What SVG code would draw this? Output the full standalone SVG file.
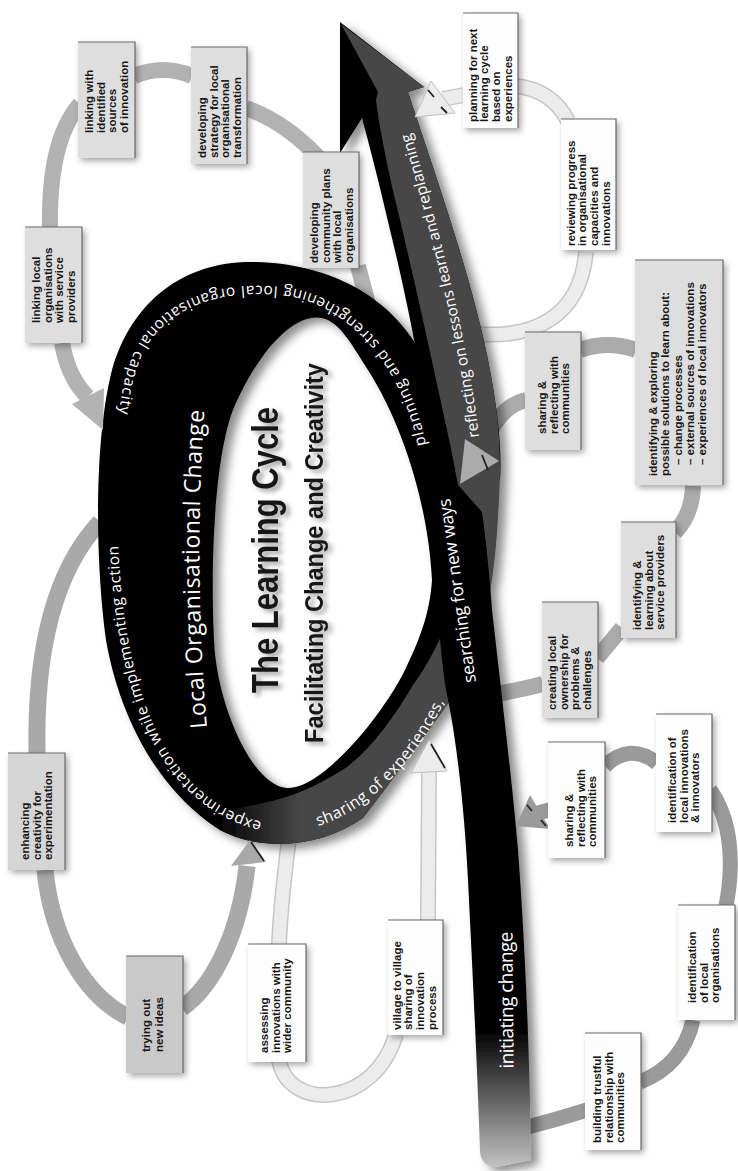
<svg xmlns="http://www.w3.org/2000/svg" width="738" height="1171" viewBox="0 0 738 1171">
<defs>
<style>
.bt{font-family:"Liberation Sans",Arial,sans-serif;font-weight:700;font-size:11.5px;fill:#161616}
.rt{font-family:"Open Sans","Liberation Sans",sans-serif;fill:#fff}
.tt{font-family:"Liberation Sans",Arial,sans-serif;font-weight:700;fill:#151515}
.gray{fill:#dedede}
.white{fill:#fdfdfd}
.mid{fill:#d5d5d5}
.dark{fill:#c9c9c9}
.edge{fill:none;stroke:#6a6a6a;stroke-width:1.2}
.c1{stroke:#b2b2b2;stroke-width:16}
.c2{stroke:#a9a9a9;stroke-width:17}
.lo{stroke:#c6c6c6;stroke-width:16}
.li{stroke:#ececec;stroke-width:13}
.c4{stroke:#9a9a9a;stroke-width:15}
.c5{stroke:#ababab;stroke-width:16}
.f1{fill:#b2b2b2}
.f2{fill:#a9a9a9}
.fl{fill:#ececec;stroke:#c0c0c0;stroke-width:1}
.f4{fill:#9a9a9a}
.f5{fill:#ababab}
.tick{stroke:#222;stroke-width:1.8;fill:none}
</style>
<filter id="bsh" x="-25%" y="-25%" width="150%" height="150%">
<feDropShadow dx="-3" dy="3" stdDeviation="3" flood-color="#000" flood-opacity="0.35"/>
</filter>
<filter id="rsh" x="-10%" y="-10%" width="130%" height="130%">
<feDropShadow dx="7" dy="5" stdDeviation="5" flood-color="#000" flood-opacity="0.45"/>
</filter>
<filter id="tsh" x="-10%" y="-10%" width="130%" height="130%">
<feDropShadow dx="4" dy="3" stdDeviation="2.5" flood-color="#000" flood-opacity="0.4"/>
</filter>
<linearGradient id="gShaft" gradientUnits="userSpaceOnUse" x1="0" y1="1030" x2="0" y2="1168">
<stop offset="0" stop-color="#000"/>
<stop offset="1" stop-color="#c4c4c4"/>
</linearGradient>
<linearGradient id="gShare" gradientUnits="userSpaceOnUse" x1="215" y1="0" x2="300" y2="0">
<stop offset="0" stop-color="#000"/>
<stop offset="1" stop-color="#474747"/>
</linearGradient>
<path id="p-reflect" d="M 479 437 C 468 340, 438 225, 409 127"/>
<path id="p-plan" d="M 426 445 C 412 370, 360 300, 290 288 C 220 278, 160 300, 135 350 C 122 380, 118 410, 117 450"/>
<path id="p-local" d="M 207 728 Q 193 565 205 400"/>
<path id="p-exp" d="M 262 822 C 190 805, 125 735, 118 540"/>
<path id="p-share" d="M 318 826 C 365 812, 415 765, 446 698"/>
</defs>

<rect width="738" height="1171" fill="#fff"/>

<g id="connectors" fill="none">
<path class="c1" d="M 62 343 C 66 365, 75 385, 88 397"/>
<path class="c1" d="M 50 228 C 49 170, 58 130, 80 104"/>
<path class="c1" d="M 134 76 Q 163 64 192 76"/>
<path class="c1" d="M 246 108 Q 285 122 318 157"/>
<path class="c1" d="M 358 266 L 380 350"/>
<path class="c2" d="M 100 522 C 55 570, 35 650, 37 753"/>
<path class="c2" d="M 45 870 C 52 940, 85 996, 128 1017"/>
<path class="c2" d="M 182 1008 C 215 985, 240 930, 247 866"/>
<path class="lo" d="M 289 838 C 284 880, 280 910, 279 946"/>
<path class="li" d="M 289 838 C 284 880, 280 910, 279 946"/>
<path class="lo" d="M 279 1060 C 288 1112, 375 1108, 396 1034"/>
<path class="li" d="M 279 1060 C 288 1112, 375 1108, 396 1034"/>
<path class="lo" d="M 428 922 L 429 770"/>
<path class="li" d="M 428 922 L 429 770"/>
<path class="c4" d="M 524 1128 Q 555 1120 587 1110"/>
<path class="c4" d="M 640 1082 Q 683 1065 693 1020"/>
<path class="c4" d="M 726 906 C 734 865, 732 820, 710 790"/>
<path class="c4" d="M 657 763 Q 630 742 605 766"/>
<path class="c4" d="M 556 808 L 538 813"/>
<path class="c5" d="M 496 694 Q 520 690 543 684"/>
<path class="c5" d="M 597 658 Q 612 640 622 628"/>
<path class="c5" d="M 675 532 Q 692 515 693 486"/>
<path class="c5" d="M 636 350 Q 608 340 580 350"/>
<path class="c5" d="M 526 400 C 505 405, 490 425, 484 448"/>
<path class="lo" d="M 478 334 C 530 338, 580 320, 586 252"/>
<path class="li" d="M 478 334 C 530 338, 580 320, 586 252"/>
<path class="lo" d="M 516 86 Q 552 90 568 121"/>
<path class="li" d="M 516 86 Q 552 90 568 121"/>
<path class="lo" d="M 464 95 L 443 99"/>
<path class="li" d="M 464 95 L 443 99"/>
</g>

<g id="ribbon" filter="url(#rsh)">
<path id="ring" fill="#000" fill-rule="evenodd" d="M 482 545 C 480 470, 460 410, 425 360 C 390 290, 320 262, 250 262 C 185 262, 132 300, 112 370 C 94 440, 95 560, 106 640 C 120 720, 160 792, 220 830 C 262 852, 320 848, 363 818 C 385 790, 425 735, 452 698 L 476 640 L 490 590 Z M 432 580 C 428 500, 400 420, 368 370 C 352 345, 340 322, 322 318 C 290 312, 255 360, 235 405 C 215 450, 210 560, 214 640 C 216 700, 250 785, 287 788 C 320 790, 380 720, 405 670 C 422 635, 430 610, 432 580 Z"/>
<path id="arrow-back" fill="#000" d="M 340 22 L 424 87 L 408 92 C 430 160, 470 270, 488 360 C 498 410, 502 450, 500 480 L 436 480 C 428 400, 405 290, 390 230 C 382 195, 372 155, 362 118 L 340 153 Z"/>
<path id="sharing-band" fill="url(#gShare)" d="M 220 830 C 262 852, 320 848, 363 818 C 385 790, 425 735, 452 698 L 476 640 L 470 615 L 452 612 C 440 640, 428 665, 413 685 C 395 715, 375 745, 347 767 C 320 785, 290 798, 263 803 C 240 808, 222 812, 205 818 Z"/>
<path id="arrow-face" fill="#474747" d="M 341 24 L 424 87 L 408 92 C 430 160, 470 270, 488 360 C 498 410, 502 450, 499 500 C 497 540, 494 570, 490 592 L 474 592 C 468 540, 458 480, 447 430 C 432 360, 410 260, 394 195 C 386 160, 379 125, 376 100 L 378 92 Z"/>
<path id="shaft" fill="url(#gShaft)" d="M 418 440 L 482 512 C 486 540, 490 580, 492 610 C 500 680, 512 780, 518 850 C 524 930, 528 1020, 530 1100 L 531 1160 L 496 1167 C 486 1168, 480 1160, 480 1150 C 477 1060, 472 960, 468 880 C 464 800, 455 730, 446 690 C 440 650, 436 590, 430 520 Z"/>
</g>

<g id="ribbon-labels" class="rt">
<text font-size="15.5"><textPath href="#p-reflect" textLength="312" lengthAdjust="spacing">reflecting on lessons learnt and replanning</textPath></text>
<text font-size="15.5"><textPath href="#p-plan" textLength="465" lengthAdjust="spacing">planning and strengthening local organisational capacity</textPath></text>
<text font-size="23"><textPath href="#p-local" textLength="318" lengthAdjust="spacing">Local Organisational Change</textPath></text>
<text font-size="15.5"><textPath href="#p-exp" textLength="335" lengthAdjust="spacing">experimentation while implementing action</textPath></text>
<text font-size="16"><textPath href="#p-share" textLength="182" lengthAdjust="spacing">sharing of experiences,</textPath></text>
<text font-size="17.5" text-anchor="middle" textLength="186" transform="translate(463,590) rotate(-98)">searching for new ways</text>
<text font-size="19" text-anchor="middle" textLength="137" transform="translate(513,1000) rotate(-90.5)">initiating change</text>
</g>

<g id="title" filter="url(#tsh)">
<text class="tt" font-size="37" textLength="286" lengthAdjust="spacingAndGlyphs" transform="translate(278,693) rotate(-90)">The Learning Cycle</text>
<text class="tt" font-size="26" textLength="380" lengthAdjust="spacingAndGlyphs" transform="translate(323,743) rotate(-90)">Facilitating Change and Creativity</text>
</g>

<g id="connector-heads">
<polygon class="f1" points="103,430 104,388 72,404"/>
<polygon class="f2" points="250,840 231,866 266,862"/>
<line class="tick" x1="251" y1="842" x2="264" y2="861"/>
<polygon class="fl" points="429,740 411,773 447,771"/>
<line class="tick" x1="431" y1="744" x2="445" y2="768"/>
<polygon class="f4" points="516,826 530,795 550,829"/>
<line class="tick" x1="527" y1="805" x2="532" y2="811"/>
<line class="tick" x1="541" y1="820" x2="546" y2="826"/>
<polygon class="f5" points="460,484 499,461 465,439"/>
<line class="tick" x1="482" y1="455" x2="488" y2="470"/>
<polygon class="fl" points="415,117 455,113 431,81"/>
<line class="tick" x1="428" y1="90" x2="434" y2="97"/>
<line class="tick" x1="441" y1="107" x2="447" y2="113"/>
</g>

<g id="n-linking-sources" transform="translate(78,158) rotate(-90)">
<rect class="gray" width="116" height="57" filter="url(#bsh)"/>
<path class="edge" d="M0 57H116V0"/>
<text class="bt"><tspan x="25" y="15">linking with</tspan><tspan x="25" dy="11.7">identified</tspan><tspan x="25" dy="11.7">sources</tspan><tspan x="25" dy="11.7">of innovation</tspan></text>
</g>
<g id="n-strategy" transform="translate(191,164) rotate(-90)">
<rect class="gray" width="117" height="56" filter="url(#bsh)"/>
<path class="edge" d="M0 56H117V0"/>
<text class="bt"><tspan x="6" y="15">developing</tspan><tspan x="6" dy="11.7">strategy for local</tspan><tspan x="6" dy="11.7">organisational</tspan><tspan x="6" dy="11.7">transformation</tspan></text>
</g>
<g id="n-community-plans" transform="translate(303,268) rotate(-90)">
<rect class="gray" width="116" height="56" filter="url(#bsh)"/>
<path class="edge" d="M0 56H116V0"/>
<text class="bt"><tspan x="5" y="15">developing</tspan><tspan x="5" dy="11.7">community plans</tspan><tspan x="5" dy="11.7">with local</tspan><tspan x="5" dy="11.7">organisations</tspan></text>
</g>
<g id="n-linking-local" transform="translate(25,343) rotate(-90)">
<rect class="gray" width="116" height="57" filter="url(#bsh)"/>
<path class="edge" d="M0 57H116V0"/>
<text class="bt"><tspan x="20" y="15">linking local</tspan><tspan x="20" dy="11.7">organisations</tspan><tspan x="20" dy="11.7">with service</tspan><tspan x="20" dy="11.7">providers</tspan></text>
</g>
<g id="n-planning-next" transform="translate(463,128) rotate(-90)">
<rect class="white" width="115" height="55" filter="url(#bsh)"/>
<path class="edge" d="M0 55H115V0"/>
<text class="bt"><tspan x="6" y="13.5">planning for next</tspan><tspan x="6" dy="11.7">learning cycle</tspan><tspan x="6" dy="11.7">based on</tspan><tspan x="6" dy="11.7">experiences</tspan></text>
</g>
<g id="n-reviewing" transform="translate(561,250) rotate(-90)">
<rect class="white" width="131" height="55" filter="url(#bsh)"/>
<path class="edge" d="M0 55H131V0"/>
<text class="bt"><tspan x="4" y="13.5">reviewing progress</tspan><tspan x="4" dy="11.7">in organisational</tspan><tspan x="4" dy="11.7">capacities and</tspan><tspan x="4" dy="11.7">innovations</tspan></text>
</g>
<g id="n-exploring" transform="translate(635,485) rotate(-90)">
<rect class="gray" width="225" height="88" filter="url(#bsh)"/>
<path class="edge" d="M0 88H225V0"/>
<text class="bt"><tspan x="9" y="22">identifying &amp; exploring</tspan><tspan x="9" dy="12.3">possible solutions to learn about:</tspan><tspan x="20" dy="12.3">– change processes</tspan><tspan x="20" dy="12.3">– external sources of innovations</tspan><tspan x="20" dy="12.3">– experiences of local innovators</tspan></text>
</g>
<g id="n-sharing-upper" transform="translate(525,450) rotate(-90)">
<rect class="gray" width="118" height="56" filter="url(#bsh)"/>
<path class="edge" d="M0 56H118V0"/>
<text class="bt"><tspan x="16" y="21">sharing &amp;</tspan><tspan x="16" dy="11.7">reflecting with</tspan><tspan x="16" dy="11.7">communities</tspan></text>
</g>
<g id="n-service-providers" transform="translate(621,638) rotate(-90)">
<rect class="gray" width="116" height="55" filter="url(#bsh)"/>
<path class="edge" d="M0 55H116V0"/>
<text class="bt"><tspan x="8" y="20">identifying &amp;</tspan><tspan x="8" dy="11.7">learning about</tspan><tspan x="8" dy="11.7">service providers</tspan></text>
</g>
<g id="n-ownership" transform="translate(542,718) rotate(-90)">
<rect class="gray" width="116" height="56" filter="url(#bsh)"/>
<path class="edge" d="M0 56H116V0"/>
<text class="bt"><tspan x="8" y="14">creating local</tspan><tspan x="8" dy="11.7">ownership for</tspan><tspan x="8" dy="11.7">problems &amp;</tspan><tspan x="8" dy="11.7">challenges</tspan></text>
</g>
<g id="n-local-innovations" transform="translate(656,832) rotate(-90)">
<rect class="white" width="118" height="56" filter="url(#bsh)"/>
<path class="edge" d="M0 56H118V0"/>
<text class="bt"><tspan x="9" y="20">identification of</tspan><tspan x="9" dy="11.7">local innovations</tspan><tspan x="9" dy="11.7">&amp; innovators</tspan></text>
</g>
<g id="n-sharing-lower" transform="translate(548,858) rotate(-90)">
<rect class="white" width="116" height="57" filter="url(#bsh)"/>
<path class="edge" d="M0 57H116V0"/>
<text class="bt"><tspan x="11" y="25">sharing &amp;</tspan><tspan x="11" dy="11.7">reflecting with</tspan><tspan x="11" dy="11.7">communities</tspan></text>
</g>
<g id="n-local-orgs" transform="translate(678,1020) rotate(-90)">
<rect class="white" width="115" height="57" filter="url(#bsh)"/>
<path class="edge" d="M0 57H115V0"/>
<text class="bt"><tspan x="17" y="18">identification</tspan><tspan x="17" dy="11.7">of local</tspan><tspan x="17" dy="11.7">organisations</tspan></text>
</g>
<g id="n-trustful" transform="translate(585,1150) rotate(-90)">
<rect class="white" width="117" height="56" filter="url(#bsh)"/>
<path class="edge" d="M0 56H117V0"/>
<text class="bt"><tspan x="7" y="16">building trustful</tspan><tspan x="7" dy="11.7">relationship with</tspan><tspan x="7" dy="11.7">communities</tspan></text>
</g>
<g id="n-village" transform="translate(388,1035) rotate(-90)">
<rect class="white" width="115" height="55" filter="url(#bsh)"/>
<path class="edge" d="M0 55H115V0"/>
<text class="bt"><tspan x="5" y="12.5">village to village</tspan><tspan x="5" dy="11.7">sharing of</tspan><tspan x="5" dy="11.7">innovation</tspan><tspan x="5" dy="11.7">process</tspan></text>
</g>
<g id="n-enhancing" transform="translate(8,870) rotate(-90)">
<rect class="mid" width="117" height="57" filter="url(#bsh)"/>
<path class="edge" d="M0 57H117V0"/>
<text class="bt"><tspan x="10" y="21">enhancing</tspan><tspan x="10" dy="11.7">creativity for</tspan><tspan x="10" dy="11.7">experimentation</tspan></text>
</g>
<g id="n-trying" transform="translate(126,1073) rotate(-90)">
<rect class="dark" width="117" height="57" filter="url(#bsh)"/>
<path class="edge" d="M0 57H117V0"/>
<text class="bt"><tspan x="21" y="24">trying out</tspan><tspan x="21" dy="12.5">new ideas</tspan></text>
</g>
<g id="n-assessing" transform="translate(248,1062) rotate(-90)">
<rect class="white" width="118" height="58" filter="url(#bsh)"/>
<path class="edge" d="M0 58H118V0"/>
<text class="bt"><tspan x="9" y="20">assessing</tspan><tspan x="9" dy="11.7">innovations with</tspan><tspan x="9" dy="11.7">wider community</tspan></text>
</g>
</svg>
